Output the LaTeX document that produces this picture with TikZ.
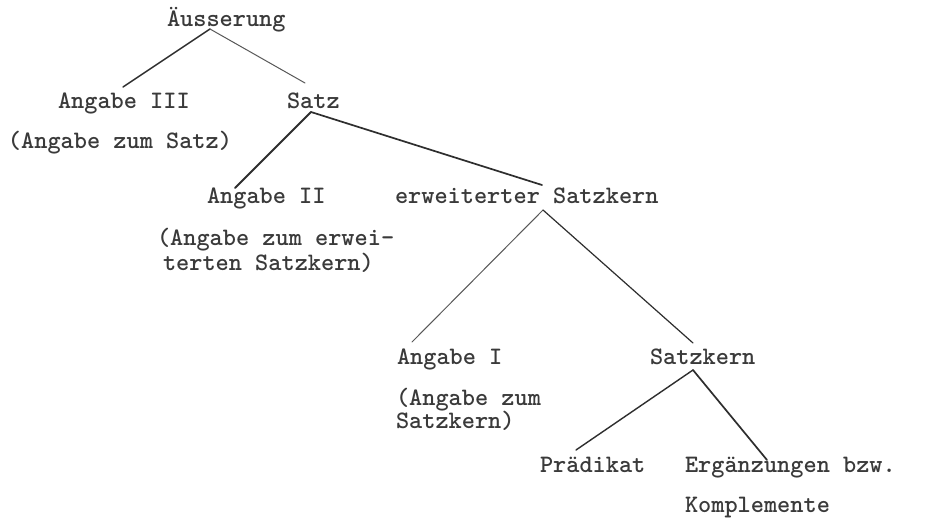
\documentclass[tikz,border=0pt]{standalone}
\usepackage{fontspec}
\usetikzlibrary{calc}
\definecolor{ink}{HTML}{3A3A3A}
\begin{document}
\begin{tikzpicture}[x=1pt,y=-1pt,
  lbl/.style={anchor=base west, inner sep=0pt, outer sep=0pt, text=ink,
    font=\ttfamily\fontseries{b}\fontsize{25.1}{25}\selectfont},
  branch/.style={draw=ink!80!black, line width=1.4pt, line cap=round},
  thin branch/.style={draw=ink!85, line width=1pt, line cap=round}]
\useasboundingbox[fill=white] (0,0) rectangle (932,522);

% labels of the tree
\node[lbl] (aus)    at (167,26)  {Äusserung};
\node[lbl] (ang3)   at (58,108)  {Angabe III};
\node[lbl] (satz)   at (287,108) {Satz};
\node[lbl] (ang3n)  at (8,148)   {(Angabe zum Satz)};
\node[lbl] (ang2)   at (207,203) {Angabe II};
\node[lbl] (erw)    at (395,203) {erweiterter Satzkern};
\node[lbl] (ang2n)  at (157,245) {(Angabe zum erwei-};
\node[lbl] (ang2nb) at (163,270) {terten Satzkern)};
\node[lbl] (ang1)   at (397,364) {Angabe I};
\node[lbl] (skern)  at (650,364) {Satzkern};
\node[lbl] (ang1n)  at (396,405) {(Angabe zum};
\node[lbl] (ang1nb) at (396,428) {Satzkern)};
\node[lbl] (pred)   at (540,472) {Prädikat};
\node[lbl] (erg)    at (685,472) {Ergänzungen bzw.};
\node[lbl] (ergb)   at (685,512) {Komplemente};

% branching points just below / above the labels
\coordinate (ausB)  at ($(aus.base west)+(43,3)$);
\coordinate (ang3T) at ($(ang3.base west)+(65,-21)$);
\coordinate (satzT) at ($(satz.base west)+(18,-25)$);
\coordinate (satzB) at ($(satz.base west)+(24,4)$);
\coordinate (ang2T) at ($(ang2.base west)+(28,-15)$);
\coordinate (erwT)  at ($(erw.base west)+(147,-18)$);
\coordinate (erwB)  at ($(erw.base west)+(148,7)$);
\coordinate (ang1T) at ($(ang1.base west)+(15,-22)$);
\coordinate (skernT) at ($(skern.base west)+(43,-21)$);
\coordinate (skernB) at ($(skern.base west)+(43,6)$);
\coordinate (predT) at ($(pred.base west)+(36,-22)$);
\coordinate (ergT)  at ($(erg.base west)+(82,-12)$);

% branches
\draw[branch] (ausB) -- (ang3T);
\draw[thin branch] (ausB) -- (satzT);
\draw[branch, line width=1.8pt] (satzB) -- (ang2T);
\draw[branch, line width=1.7pt] (satzB) -- (erwT);
\draw[thin branch] (erwB) -- (ang1T);
\draw[branch, line width=1.2pt] (erwB) -- (skernT);
\draw[branch] (skernB) -- (predT);
\draw[branch, line width=1.7pt] (skernB) -- (ergT);
\end{tikzpicture}
\end{document}
